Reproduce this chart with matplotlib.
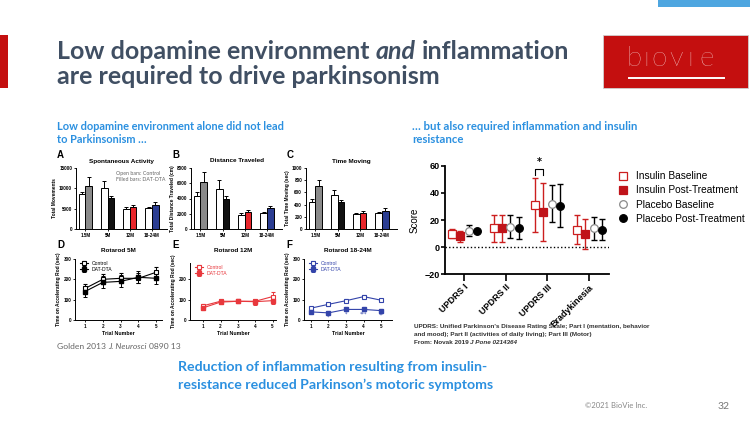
import numpy as np
import matplotlib.pyplot as plt
from matplotlib.lines import Line2D
from matplotlib.patches import Rectangle

W, H = 750, 422

# Golden 2013, panels A-C (control = open bars, DAT-DTA = filled bars)
ages = ['1.5M', '5M', '12M', '18-24M']
dta_colors = ['#8a8a8a', '#111111', '#e8262b', '#2b3d92']

movements_ctrl = [8700, 10200, 4800, 5100]
movements_ctrl_err = [300, 1600, 700, 300]
movements_dta = [10500, 7700, 5500, 6000]
movements_dta_err = [2200, 400, 300, 700]

distance_ctrl = [4300, 5300, 1850, 2100]
distance_ctrl_err = [600, 1100, 250, 150]
distance_dta = [6100, 3900, 2200, 2700]
distance_dta_err = [1400, 400, 300, 350]

moving_ctrl = [450, 550, 240, 255]
moving_ctrl_err = [50, 90, 20, 20]
moving_dta = [700, 440, 270, 300]
moving_dta_err = [110, 40, 25, 40]

# Golden 2013, panels D-F (rotarod)
trials = [1, 2, 3, 4, 5]
rot5_ctrl = [155, 200, 205, 205, 235]
rot5_ctrl_err = [20, 25, 25, 25, 25]
rot5_dta = [140, 185, 190, 210, 205]
rot5_dta_err = [25, 30, 30, 30, 30]
rot12_ctrl = [70, 92, 92, 92, 115]
rot12_ctrl_err = [10, 10, 10, 12, 25]
rot12_dta = [60, 88, 92, 90, 95]
rot12_dta_err = [10, 10, 10, 15, 15]
rot18_ctrl = [58, 77, 95, 115, 97]
rot18_ctrl_err = [5, 6, 6, 6, 6]
rot18_dta = [40, 35, 52, 52, 46]
rot18_dta_err = [5, 4, 8, 5, 5]
rot18_stars = ['', '*', '*', '***', '**']

# Novak 2019
scales = ['UPDRS I', 'UPDRS II', 'UPDRS III', 'Bradykinesia']
ins_base = [10, 14, 31, 13]
ins_base_err = [3.5, 10, 20, 11]
ins_post = [8, 14, 26, 10]
ins_post_err = [4, 10, 21.5, 11]
pla_base = [12, 15, 32, 14]
pla_base_err = [4, 8.5, 13.5, 8.5]
pla_post = [12, 14, 30.5, 13]
pla_post_err = [0, 8, 16, 7.5]

TITLE = '#404f63'
BLUE = '#2b90e0'
RED = '#c40f0f'
SANS = 'Liberation Sans'

fig = plt.figure(figsize=(W / 100, H / 100), dpi=100)
renderer = fig.canvas.get_renderer()


def px_axes(x0, y0, x1, y1):
    return fig.add_axes([x0 / W, 1 - y1 / H, (x1 - x0) / W, (y1 - y0) / H])


def put(x, y, s, **kw):
    return fig.text(x / W, 1 - y / H, s, **kw)


def put_parts(x, y, parts, **kw):
    # words joined by a space, some of them italic
    a = put(0, 0, 'a a', **kw)
    b = put(0, 0, 'aa', **kw)
    gap = a.get_window_extent(renderer).width - b.get_window_extent(renderer).width
    a.remove()
    b.remove()
    for s, italic in parts:
        t = put(x, y, s, style='italic' if italic else 'normal', va='baseline', **kw)
        x += t.get_window_extent(renderer).width + gap


# slide decoration
fig.add_artist(Rectangle((658 / W, 1 - 7 / H), 92 / W, 7 / H, transform=fig.transFigure,
                         facecolor='#4ea6e0', lw=0))
fig.add_artist(Rectangle((0, 1 - 88 / H), 8 / W, 53 / H, transform=fig.transFigure,
                         facecolor=RED, lw=0))
fig.add_artist(Rectangle((603 / W, 1 - 88 / H), 145 / W, 53 / H, transform=fig.transFigure,
                         facecolor=RED, edgecolor='#d0d0d0', lw=0.6))
for ch, cx in zip('bıovıe', [634, 646, 659, 676, 690, 706]):
    put(cx, 58, ch, color='white', fontsize=20, family='Lato', weight='light',
        ha='center', va='center')
fig.add_artist(Line2D([629 / W, 724 / W], [1 - 77.5 / H] * 2, color='white', lw=1.4))

put_parts(57, 59, [('Low dopamine environment', False), ('and', True), ('inflammation', False)],
          fontsize=18, family='Lato', weight='bold', color=TITLE)
put(57, 84, 'are required to drive parkinsonism', fontsize=18, family='Lato',
    weight='bold', color=TITLE, va='baseline')

put(57, 130, 'Low dopamine environment alone did not lead', fontsize=7.9, family='Lato',
    weight='bold', color=BLUE, va='baseline')
put(57, 143, 'to Parkinsonism …', fontsize=7.9, family='Lato', weight='bold', color=BLUE,
    va='baseline')
put(412, 130, '… but also required inflammation and insulin', fontsize=8.2, family='Lato',
    weight='bold', color=BLUE, va='baseline')
put(412, 143, 'resistance', fontsize=8.2, family='Lato', weight='bold', color=BLUE,
    va='baseline')


def style_small(ax, ylabel):
    for s in ['top', 'right']:
        ax.spines[s].set_visible(False)
    for s in ['left', 'bottom']:
        ax.spines[s].set_linewidth(0.7)
    ax.tick_params(labelsize=3.3, length=1.5, width=0.6, pad=1.2)
    for lab in ax.get_xticklabels() + ax.get_yticklabels():
        lab.set_fontweight('bold')
        lab.set_family(SANS)
    ax.set_ylabel(ylabel, fontsize=3.5, fontweight='bold', family=SANS, labelpad=1.5)


def bar_panel(box, letter, title, ylabel, ctrl, ctrl_err, dta, dta_err, ymax, step):
    ax = px_axes(*box)
    x = np.arange(len(ages))
    w = 0.3
    zeros = np.zeros(len(ages))
    ax.bar(x - w / 2, ctrl, w, color='white', edgecolor='black', lw=0.7)
    ax.bar(x + w / 2, dta, w, color=dta_colors, edgecolor='black', lw=0.7)
    ax.errorbar(x - w / 2, ctrl, yerr=[zeros, ctrl_err], fmt='none', ecolor='black',
                elinewidth=0.7, capsize=1.4, capthick=0.7)
    ax.errorbar(x + w / 2, dta, yerr=[zeros, dta_err], fmt='none', ecolor='black',
                elinewidth=0.7, capsize=1.4, capthick=0.7)
    ax.set_xlim(-0.42, 3.68)
    ax.set_ylim(0, ymax)
    ax.set_yticks(np.arange(0, ymax + 1, step))
    ax.set_xticks(x, ages)
    ax.tick_params(axis='x', length=0)
    style_small(ax, ylabel)
    put((box[0] + box[2]) / 2, 161, title, fontsize=4.6, fontweight='bold', family=SANS,
        ha='center', va='center')
    put(box[0] - 19, 158, letter, fontsize=7, fontweight='bold', family=SANS, va='baseline')
    return ax


def line_panel(box, letter, title, ctrl, ctrl_err, dta, dta_err, color, ymax, yticks, xlim,
               stars=None):
    ax = px_axes(*box)
    ax.errorbar(trials, ctrl, yerr=ctrl_err, color=color, marker='s', mfc='white', mec=color,
                mew=0.8, ms=3, lw=0.8, elinewidth=0.7, capsize=1.4, capthick=0.7,
                label='Control')
    ax.errorbar(trials, dta, yerr=dta_err, color=color, marker='s', ms=3, lw=0.8,
                elinewidth=0.7, capsize=1.4, capthick=0.7, label='DAT-DTA')
    if stars:
        for t, v, e, s in zip(trials, dta, dta_err, stars):
            ax.text(t, v - e - 4, s, color=color, fontsize=3.5, ha='center', va='top')
    ax.set_xlim(*xlim)
    ax.set_ylim(0, ymax)
    ax.set_yticks(yticks)
    ax.set_xticks(trials)
    style_small(ax, 'Time on Accelerating Rod (sec)')
    ax.set_xlabel('Trial Number', fontsize=3.8, fontweight='bold', family=SANS, labelpad=1.5)
    ax.legend(loc='upper left', frameon=False, handlelength=1.6, borderaxespad=0.2,
              labelspacing=0.25, prop={'family': SANS, 'size': 3.6}, labelcolor=color,
              bbox_to_anchor=(0.02, 1.02))
    put((box[0] + box[2]) / 2, 251, title, fontsize=4.6, fontweight='bold', family=SANS,
        ha='center', va='center')
    put(box[0] - 18, 248, letter, fontsize=7, fontweight='bold', family=SANS, va='baseline')
    return ax


bar_panel((76, 168, 167, 229), 'A', 'Spontaneous Activity', 'Total Movements',
          movements_ctrl, movements_ctrl_err, movements_dta, movements_dta_err, 15000, 5000)
put(116, 173, 'Open bars: Control', fontsize=3.8, color='#666666', family='Lato', va='center')
put(116, 180, 'Filled bars: DAT-DTA', fontsize=3.8, color='#666666', family='Lato', va='center')
bar_panel((191, 168, 282, 229), 'B', 'Distance Traveled', 'Total Distance Traveled (cm)',
          distance_ctrl, distance_ctrl_err, distance_dta, distance_dta_err, 8000, 2000)
bar_panel((306, 168, 397, 229), 'C', 'Time Moving', 'Total Time Moving (sec)',
          moving_ctrl, moving_ctrl_err, moving_dta, moving_dta_err, 1000, 200)

line_panel((75, 259, 162, 320), 'D', 'Rotarod 5M', rot5_ctrl, rot5_ctrl_err, rot5_dta,
           rot5_dta_err, 'black', 300, [0, 100, 200, 300], (0.44, 5.32))
line_panel((190, 263, 276, 320), 'E', 'Rotarod 12M', rot12_ctrl, rot12_ctrl_err, rot12_dta,
           rot12_dta_err, '#e8383d', 280, [0, 100, 200], (0.24, 5.2))
line_panel((304, 259, 392, 320), 'F', 'Rotarod 18-24M', rot18_ctrl, rot18_ctrl_err, rot18_dta,
           rot18_dta_err, '#3344aa', 300, [0, 100, 200, 300], (0.62, 5.6), rot18_stars)

put_parts(57, 349, [('Golden 2013', False), ('J. Neurosci', True), ('0890 13', False)],
          fontsize=6.1, family='Lato', color='#666666')

# Novak 2019 chart
ax = px_axes(445, 165.7, 609, 274.3)
x = np.arange(len(scales))
series = [
    (ins_base, ins_base_err, -0.29, 's', 'white', '#cc1f1f', '#cc1f1f', 'Insulin Baseline'),
    (ins_post, ins_post_err, -0.1, 's', '#c0141a', '#c0141a', '#cc1f1f', 'Insulin Post-Treatment'),
    (pla_base, pla_base_err, 0.11, 'o', 'white', '#8a8a8a', 'black', 'Placebo Baseline'),
    (pla_post, pla_post_err, 0.31, 'o', 'black', 'black', 'black', 'Placebo Post-Treatment'),
]
handles = []
for vals, err, off, mk, fc, ec, lc, name in series:
    ax.errorbar(x + off, vals, yerr=err, fmt='none', ecolor=lc, elinewidth=1.0, capsize=2.2,
                capthick=1.0, zorder=2)
    ax.plot(x + off, vals, ls='none', marker=mk, ms=5.5, mfc=fc, mec=ec, mew=0.9, zorder=3)
    handles.append(Line2D([], [], ls='none', marker=mk, ms=5.5, mfc=fc, mec=ec, mew=0.9,
                          label=name))
ax.axhline(0, color='black', lw=1.0, ls=(0, (1, 1.6)), zorder=1)
bx = [2 - 0.29, 2 - 0.29, 2 - 0.1, 2 - 0.1]
ax.plot(bx, [53.5, 57.5, 57.5, 53.5], color='black', lw=0.8, clip_on=False)
ax.text(2 - 0.195, 59, '*', fontsize=7, ha='center', va='bottom', fontweight='bold')
ax.set_xlim(-0.46, 3.48)
ax.set_ylim(-20, 60)
ax.set_yticks([-20, 0, 20, 40, 60])
ax.set_xticks(x, scales)
for s in ['top', 'right']:
    ax.spines[s].set_visible(False)
for s in ['left', 'bottom']:
    ax.spines[s].set_linewidth(1.3)
ax.tick_params(axis='y', labelsize=6.5, length=3, width=1.2, pad=1)
ax.tick_params(axis='x', labelsize=6.5, length=5, width=1.2, pad=1)
for lab in ax.get_yticklabels():
    lab.set_fontweight('bold')
    lab.set_family(SANS)
for lab in ax.get_xticklabels():
    lab.set_fontweight('bold')
    lab.set_family(SANS)
    lab.set_rotation(45)
    lab.set_ha('right')
    lab.set_rotation_mode('anchor')
ax.set_ylabel('Score', fontsize=7, family=SANS, labelpad=3)
fig.legend(handles=handles, loc='upper left', bbox_to_anchor=(615 / W, 1 - 167 / H),
           frameon=False, prop={'family': SANS, 'size': 7.3}, handlelength=0.8,
           handletextpad=0.9, labelspacing=0.42, borderaxespad=0)

put(414, 328, "UPDRS: Unified Parkinson's Disease Rating Scale; Part I (mentation, behavior",
    fontsize=4.6, family=SANS, weight='bold', color='#333333', va='baseline')
put(414, 336, 'and mood); Part II (activities of daily living); Part III (Motor)',
    fontsize=4.6, family=SANS, weight='bold', color='#333333', va='baseline')
put_parts(414, 344, [('From: Novak 2019', False), ('J Pone 0214364', True)],
          fontsize=4.6, family=SANS, weight='bold', color='#333333')

put(178, 371, 'Reduction of inflammation resulting from insulin-', fontsize=10.2,
    family='Lato', weight='bold', color=BLUE, va='baseline')
put(178, 389, 'resistance reduced Parkinson’s motoric symptoms', fontsize=10.2,
    family='Lato', weight='bold', color=BLUE, va='baseline')
put(585, 408, '©2021 BioVie Inc.', fontsize=5.5, family='Lato', color='#888888',
    va='baseline')
put(718, 409, '32', fontsize=7.5, family='Lato', color='#777777', va='baseline')

fig.savefig('out.png', dpi=100)
